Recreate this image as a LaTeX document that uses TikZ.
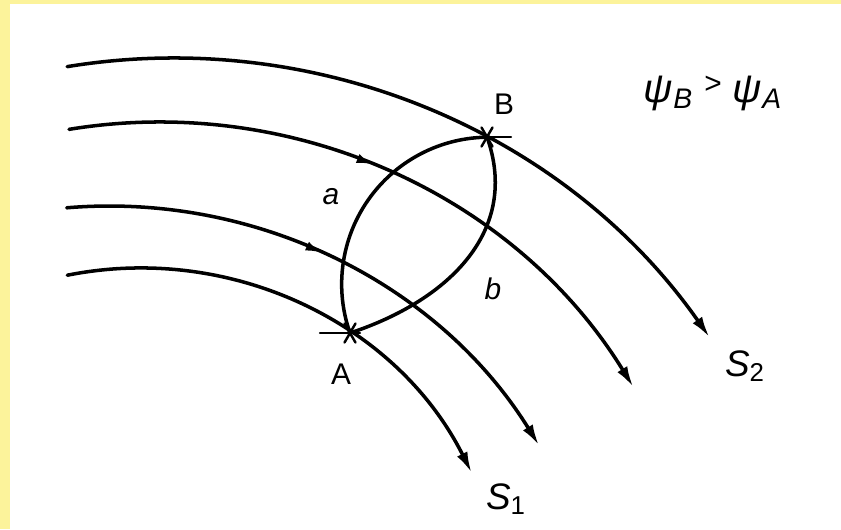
\documentclass[tikz,border=0pt]{standalone}
\usepackage{fontspec}
\setmainfont{Liberation Sans}
\usetikzlibrary{arrows.meta,decorations.markings}

\definecolor{frameyellow}{RGB}{252,243,155}

\tikzset{
  stream/.style={line width=2pt, -{Latex[length=12pt,width=6.5pt]}},
  lens/.style={line width=2pt},
  starmark/.style={line width=1.4pt},
  midarrow/.style={postaction={decorate},
    decoration={markings, mark=at position #1 with {\arrow{Latex[length=9pt,width=5.5pt]}}}},
  ptlabel/.style={inner sep=0pt, font=\fontsize{17}{19}\selectfont},
  arclabel/.style={inner sep=0pt, font=\fontsize{17}{19}\selectfont\itshape},
  slabel/.style={inner sep=0pt, font=\fontsize{21}{23}\selectfont},
}

\begin{document}
\begin{tikzpicture}[x=0.02cm, y=-0.02cm, line cap=round, line join=round]
  % 0. 边框与画布
  \useasboundingbox (0,0) rectangle (841,529);
  \fill[frameyellow] (0,0) rectangle (841,4);
  \fill[frameyellow] (0,0) rectangle (10,529);

  % 1. 流线 (圆弧, 自上而下)
  \draw[stream] (173,713) ++(-99.3:655) arc[start angle=-99.3, end angle=-35, radius=655];
  \draw[stream, midarrow=0.47] (159,679) ++(-99.3:557) arc[start angle=-99.3, end angle=-31.6, radius=557];
  \draw[stream, midarrow=0.47] (109,712) ++(-94.8:506) arc[start angle=-94.8, end angle=-31.8, radius=506];
  \draw[stream] (140,639) ++(-101.3:371) arc[start angle=-101.3, end angle=-26.6, radius=371];

  % 2. A, B 两点与两条路径 a, b
  \coordinate (A) at (350,333);
  \coordinate (B) at (487,137);
  \draw[lens] (A) arc[start angle=160.6, end angle=269.2, radius=147];
  \draw[lens] (A) .. controls (450,300) and (520,230) .. (B);

  % 3. 星号标记
  \foreach \p/\l/\r in {A/30/10, B/10/24}{
    \draw[starmark] (\p) ++(-\l,0) -- ++(\l+\r,0);
    \draw[starmark] (\p) ++(60:11) -- ++(240:22);
    \draw[starmark] (\p) ++(120:11) -- ++(300:22);
  }

  % 4. 文字
  \node[ptlabel] (labA) at (341,374) {A};
  \node[ptlabel] (labB) at (504,104) {B};
  \node[arclabel] (laba) at (331,197) {a};
  \node[arclabel] (labb) at (493,289) {b};
  \node[slabel] (s1) at (506,499) {\textit{S}\textsubscript{1}};
  \node[slabel] (s2) at (745,366) {\textit{S}\textsubscript{2}};
  \node[inner sep=0pt, font=\fontsize{23}{25}\selectfont] (psi) at (713,93)
    {\textit{ψ}\textsubscript{\textit{B}} \raisebox{5pt}{\fontsize{17}{17}\selectfont >} \textit{ψ}\textsubscript{\textit{A}}};
\end{tikzpicture}
\end{document}
